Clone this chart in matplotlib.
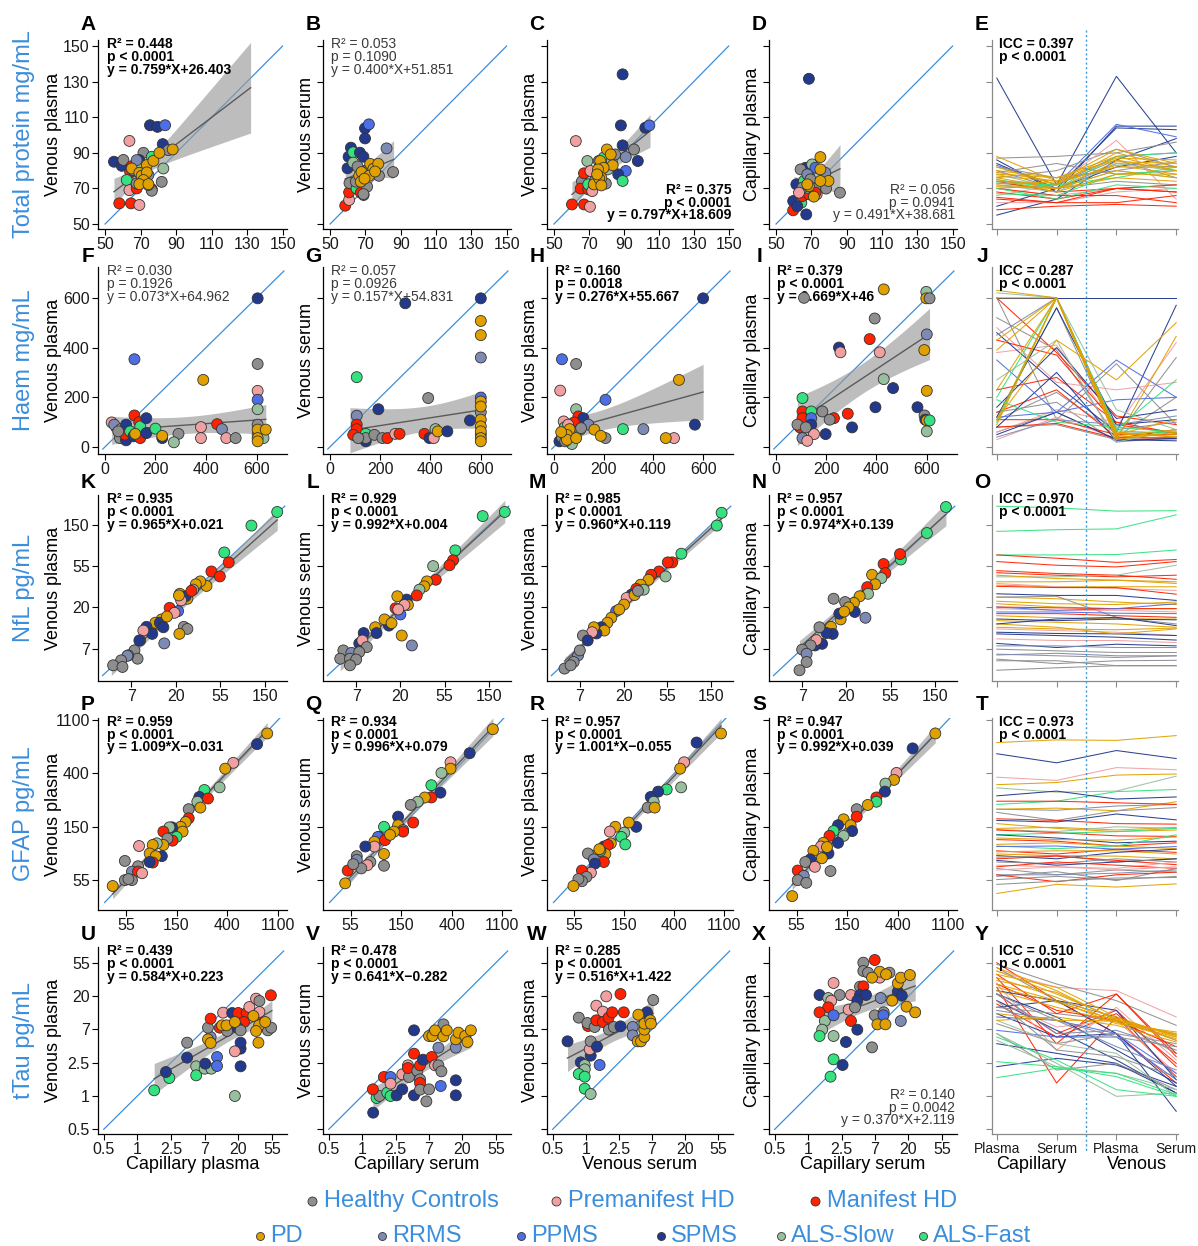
import numpy as np
import matplotlib
matplotlib.use('Agg')
import matplotlib.pyplot as plt
from matplotlib.lines import Line2D

plt.rcParams['font.family'] = ['Liberation Sans', 'DejaVu Sans']

# ---- groups ----
GROUPS = ['HC', 'PRE', 'HD', 'PD', 'RR', 'PP', 'SP', 'AS', 'AF']
GROUP_NAMES = ['Healthy Controls', 'Premanifest HD', 'Manifest HD', 'PD', 'RRMS',
               'PPMS', 'SPMS', 'ALS-Slow', 'ALS-Fast']
GROUP_COLORS = {'HC': '#8e8e8e', 'PRE': '#f0a0a0', 'HD': '#ff2200', 'PD': '#e0a100',
                'RR': '#7d8ab3', 'PP': '#4d6fe6', 'SP': '#22398c', 'AS': '#98bf9d',
                'AF': '#35e27f'}

ROW_TITLES = ['Total protein mg/mL', 'Haem mg/mL', 'NfL pg/mL', 'GFAP pg/mL', 'tTau pg/mL']
Y_LABELS = ['Venous plasma', 'Venous serum', 'Venous plasma', 'Capillary plasma']
X_LABELS = ['Capillary plasma', 'Capillary serum', 'Venous serum', 'Capillary serum']
E_TICKLABELS = ['Plasma', 'Serum', 'Plasma', 'Serum']

# tick values (rows 3-5 are drawn on a natural-log axis)
TICKS = [[50, 70, 90, 110, 130, 150], [0, 200, 400, 600], [2, 3, 4, 5], [4, 5, 6, 7],
         [-1, 0, 1, 2, 3, 4]]
TICK_LABELS = [['50', '70', '90', '110', '130', '150'], ['0', '200', '400', '600'],
               ['7', '20', '55', '150'], ['55', '150', '400', '1100'],
               ['0.5', '1', '2.5', '7', '20', '55']]

# ---- row 1: total protein (group, x, y) ----
pts_A = [('SP', 55, 85), ('SP', 59.4, 82.7), ('HC', 60.3, 86), ('SP', 75.3, 105.5), ('SP', 79.5, 104.6),
         ('PP', 83.8, 105.5), ('SP', 82.5, 94.9), ('PRE', 63.7, 96.7), ('HC', 71.6, 90), ('SP', 69.3, 85.9),
         ('HD', 65, 82.5), ('HD', 64.1, 79.3), ('HC', 66, 80.3), ('AF', 62.2, 74.7), ('PRE', 63.7, 69),
         ('HD', 67.8, 70), ('HD', 58, 61.6), ('HD', 64.6, 61.6), ('PRE', 69.3, 60.7), ('HD', 76.3, 69.6),
         ('HC', 76.3, 68.7), ('AF', 74.4, 71.9), ('AF', 76.3, 87.8), ('AS', 69.3, 82.1), ('AS', 82.8, 81.2),
         ('HC', 81.9, 73.7), ('HC', 74.4, 77.5), ('HC', 70.6, 76.5), ('HC', 85.6, 91.5), ('RR', 67.8, 85.9),
         ('HC', 67.8, 72.8), ('PD', 65, 81.2), ('PD', 73.5, 83.1), ('PD', 77.2, 85.5), ('PD', 80.6, 90),
         ('PD', 88.1, 91.9), ('PD', 69.3, 78.8), ('PD', 70.6, 77.1), ('PD', 73.5, 79), ('PD', 71.6, 74.7),
         ('PD', 69.3, 72.4), ('PD', 74.4, 72.4)]
pts_B = [('HD', 58.6, 60.3), ('PRE', 60.8, 63.5), ('HD', 60.8, 67.8), ('PRE', 62.7, 72.9), ('HC', 61, 73),
         ('AF', 65, 70), ('HD', 67.4, 67.6), ('HC', 69, 66.3), ('SP', 61.8, 92.9), ('SP', 60.5, 87.8),
         ('SP', 59.9, 81.3), ('AF', 63.1, 90.3), ('SP', 66.9, 90.1), ('SP', 68.9, 87.8), ('SP', 69.8, 103.8),
         ('PP', 72, 106), ('SP', 69.8, 98.1), ('RR', 82, 92.5), ('AS', 63.1, 84.5), ('AS', 68, 80),
         ('HC', 65.6, 82.3), ('HC', 71, 80), ('HC', 77.7, 77.1), ('HC', 85.7, 79.2), ('HC', 71, 71),
         ('HC', 68.9, 66.8), ('HC', 64.6, 73.8), ('PD', 72.7, 83.8), ('PD', 74.5, 81), ('PD', 77.3, 83.8),
         ('PD', 66.5, 77.1), ('PD', 67.8, 79.2), ('PD', 67.4, 73.8), ('PD', 72.1, 77.1), ('PD', 69.5, 75.5),
         ('PD', 75.5, 79.5)]
pts_C = [('SP', 89.3, 134.1), ('SP', 88.3, 105.4), ('SP', 102.3, 104.1), ('PP', 104.6, 105.4),
         ('SP', 89.3, 94.2), ('HC', 95.8, 91.9), ('RR', 91.1, 87.6), ('SP', 98, 85.4), ('PP', 91.1, 79.8),
         ('SP', 86.8, 77.9), ('AF', 89.3, 74.2), ('PRE', 62.5, 96.6), ('AS', 69.1, 85.4), ('HC', 66, 74),
         ('HD', 67.2, 78.5), ('PRE', 70.9, 79.8), ('HD', 65.3, 69.9), ('HD', 69.6, 69.5), ('AF', 69.6, 72.3),
         ('HD', 60.3, 61), ('HD', 67.2, 61), ('PRE', 70.6, 59.7), ('PRE', 71.9, 68.5), ('HC', 73.4, 74.2),
         ('HC', 79.7, 72.7), ('HC', 75.6, 85.4), ('AF', 78.4, 87.3), ('AS', 80.8, 80.7), ('AS', 83.1, 85.4),
         ('HC', 85, 89.1), ('PD', 80.3, 91.9), ('PD', 82.5, 89.1), ('PD', 83.6, 83), ('PD', 76.5, 85.4),
         ('PD', 78.4, 81.6), ('PD', 75.2, 80.7), ('PD', 77.1, 76), ('PD', 72.8, 72.3), ('PD', 75.9, 75.5),
         ('PD', 77.1, 71.7), ('PD', 74.7, 77.9)]
pts_D = [('SP', 68.6, 131.6), ('SP', 67.1, 55.4), ('HD', 59.7, 57.7), ('SP', 59.7, 62.9), ('AF', 64.3, 62),
         ('SP', 62, 60), ('SP', 61.5, 72.3), ('HD', 64.9, 65.7), ('HD', 68.6, 66.7), ('AS', 67.7, 70.4),
         ('AF', 65.8, 74.2), ('AF', 68.6, 77), ('SP', 66.7, 81.6), ('HC', 63.9, 80.7), ('AS', 70.4, 83.5),
         ('PP', 72.3, 81.6), ('RR', 77.9, 78.8), ('RR', 67.7, 77.9), ('HC', 78.3, 69.9), ('HC', 86.2, 67.6),
         ('HC', 64.9, 70.4), ('HC', 72.3, 70.4), ('HC', 69.5, 75.1), ('PRE', 73, 66.7), ('HD', 72.3, 67.6),
         ('PRE', 63, 67.6), ('PD', 75.1, 87.6), ('PD', 75.1, 80.7), ('PD', 79.7, 74.2), ('PD', 75.1, 74.2),
         ('PD', 68.6, 71.3), ('PD', 71.4, 65.4), ('PD', 67.7, 72.3)]

# ---- row 2: haem ----
pts_F = [('SP', 604, 598), ('PP', 117, 353), ('PD', 389, 270), ('HC', 604, 334), ('PRE', 604, 226),
         ('PP', 604, 190), ('AS', 604, 152), ('HC', 604, 90), ('HC', 604, 50), ('AS', 627, 36),
         ('PRE', 27, 99), ('RR', 37, 90), ('HC', 60, 36), ('AS', 64, 72), ('SP', 84, 90), ('SP', 84, 27),
         ('HD', 80, 50), ('AF', 100, 63), ('SP', 113, 43), ('HD', 117, 127), ('HD', 136, 100), ('AF', 140, 83),
         ('HD', 140, 36), ('SP', 164, 116), ('SP', 164, 56), ('AF', 200, 74), ('SP', 227, 36), ('HC', 291, 53),
         ('AS', 273, 19), ('PRE', 380, 80), ('PRE', 380, 36), ('HD', 444, 92), ('RR', 463, 72), ('PRE', 480, 36),
         ('HC', 517, 36), ('HC', 53, 63), ('PD', 120, 53), ('PD', 227, 45), ('PD', 604, 70), ('PD', 636, 70),
         ('PD', 604, 36), ('PD', 604, 23)]
pts_G = [('SP', 300, 578), ('AF', 107, 281), ('HC', 391, 197), ('SP', 193, 152), ('RR', 107, 126),
         ('HD', 107, 90), ('HD', 107, 72), ('HD', 93, 49), ('AF', 143, 53), ('SP', 143, 23), ('HC', 143, 36),
         ('HC', 113, 36), ('HC', 177, 49), ('HC', 209, 36), ('HD', 229, 36), ('PRE', 260, 53), ('HD', 277, 53),
         ('HD', 376, 53), ('SP', 396, 36), ('PRE', 413, 36), ('AS', 420, 72), ('PD', 429, 63), ('SP', 467, 63),
         ('SP', 557, 107), ('SP', 600, 598), ('RR', 600, 360), ('PP', 600, 199), ('HC', 600, 140),
         ('HC', 600, 50), ('PD', 600, 507), ('PD', 600, 450), ('PD', 600, 183), ('PD', 600, 163),
         ('PD', 600, 110), ('PD', 600, 83), ('PD', 600, 63), ('PD', 600, 36), ('PD', 600, 23)]
pts_H = [('SP', 600, 598), ('PP', 33, 353), ('HC', 90, 334), ('PRE', 26, 227), ('PP', 208, 190),
         ('PD', 503, 270), ('AS', 90, 152), ('HD', 99, 123), ('SP', 119, 116), ('RR', 139, 90), ('SP', 567, 90),
         ('AF', 278, 72), ('RR', 360, 72), ('PRE', 483, 36), ('HC', 208, 36), ('HD', 82, 99), ('HD', 60, 79),
         ('PRE', 40, 103), ('AF', 44, 79), ('AS', 73, 12), ('SP', 23, 23), ('HC', 33, 39), ('AF', 106, 70),
         ('HC', 110, 76), ('HC', 46, 23), ('PRE', 58, 90), ('PD', 450, 36), ('PD', 163, 70), ('PD', 189, 45),
         ('PD', 64, 72), ('PD', 53, 49), ('PD', 53, 29), ('PD', 90, 36), ('PD', 30, 60)]
pts_I = [('HC', 112, 600), ('PD', 429, 634), ('AS', 598, 624), ('PD', 598, 598), ('HC', 611, 598),
         ('HC', 393, 517), ('HD', 373, 434), ('SP', 251, 400), ('PRE', 257, 381), ('PRE', 413, 381),
         ('RR', 600, 453), ('PD', 590, 390), ('AS', 429, 273), ('SP', 466, 237), ('PD', 600, 226),
         ('AF', 106, 197), ('SP', 396, 160), ('SP', 563, 160), ('HC', 185, 143), ('HD', 106, 143),
         ('AF', 141, 143), ('HD', 286, 134), ('HD', 231, 116), ('HC', 214, 110), ('HD', 106, 116),
         ('PP', 141, 116), ('SP', 141, 90), ('HD', 96, 79), ('HC', 86, 90), ('SP', 303, 79), ('SP', 198, 52),
         ('PRE', 152, 52), ('RR', 106, 36), ('PRE', 125, 25), ('HC', 591, 127), ('SP', 594, 110),
         ('PD', 600, 107), ('AS', 600, 63), ('AF', 611, 107), ('HC', 119, 79)]

# ---- row 3: NfL (natural log values) ----
pts_K = [('AF', 5.28, 5.31), ('AF', 4.70, 4.98), ('AF', 4.09, 4.33), ('HD', 4.19, 4.09), ('HD', 3.80, 3.87),
         ('HD', 3.99, 3.75), ('PD', 3.69, 3.52), ('PD', 3.55, 3.63), ('PD', 3.45, 3.56), ('AS', 3.39, 3.43),
         ('PD', 3.09, 3.33), ('PD', 3.26, 3.21), ('SP', 3.22, 3.27), ('PRE', 3.12, 3.17), ('PD', 3.07, 3.29),
         ('HD', 2.86, 2.99), ('PP', 3.05, 2.91), ('PRE', 2.97, 2.87), ('PD', 2.68, 2.71), ('PD', 2.61, 2.60),
         ('PD', 2.54, 2.63), ('SP', 2.34, 2.53), ('SP', 2.47, 2.36), ('SP', 2.64, 2.63), ('SP', 2.72, 2.52),
         ('HC', 3.18, 2.53), ('HC', 3.26, 2.48), ('PD', 3.08, 2.36), ('RR', 2.74, 2.13), ('PRE', 2.27, 2.44),
         ('PRE', 2.20, 2.20), ('SP', 2.18, 2.20), ('HC', 2.07, 1.96), ('HC', 2.14, 1.76), ('HC', 1.93, 1.84),
         ('RR', 1.91, 1.83), ('HC', 1.77, 1.72), ('HC', 1.59, 1.60), ('HC', 1.80, 1.56), ('PD', 2.80, 2.78),
         ('HD', 3.35, 3.40)]
pts_L = [('AF', 5.36, 5.31), ('AF', 4.86, 5.21), ('AF', 4.24, 4.38), ('HD', 4.19, 4.14), ('HD', 4.11, 4.02),
         ('AS', 3.74, 4.00), ('HD', 3.80, 3.67), ('PD', 3.60, 3.63), ('PD', 3.54, 3.51), ('AS', 3.43, 3.43),
         ('HD', 3.37, 3.29), ('SP', 3.14, 3.19), ('PD', 3.17, 3.06), ('PD', 2.93, 3.27), ('HD', 2.89, 2.98),
         ('PRE', 3.09, 3.06), ('PP', 3.00, 2.83), ('SP', 2.74, 2.56), ('PD', 2.64, 2.71), ('PD', 2.43, 2.52),
         ('SP', 2.46, 2.38), ('SP', 2.17, 2.38), ('PD', 2.80, 2.62), ('PD', 3.03, 2.32), ('RR', 3.26, 2.08),
         ('SP', 2.07, 2.13), ('PRE', 2.14, 2.20), ('HC', 2.24, 2.04), ('HC', 1.71, 1.96), ('RR', 1.89, 1.90),
         ('HC', 2.07, 1.92), ('HC', 1.64, 1.76), ('HC', 1.86, 1.76), ('HC', 2.0, 1.74), ('HC', 1.86, 1.60),
         ('PRE', 2.95, 2.95)]
pts_M = [('AF', 5.24, 5.29), ('AF', 5.13, 4.98), ('AF', 4.32, 4.30), ('HD', 4.11, 4.09), ('HD', 4.01, 4.09),
         ('HD', 3.81, 3.87), ('AS', 3.96, 3.75), ('HD', 3.63, 3.79), ('PD', 3.57, 3.67), ('PD', 3.39, 3.55),
         ('AS', 3.46, 3.43), ('HD', 3.29, 3.45), ('SP', 3.18, 3.31), ('PRE', 3.07, 3.23), ('PD', 3.01, 3.07),
         ('PP', 2.83, 2.91), ('PD', 2.72, 2.75), ('PD', 2.63, 2.63), ('SP', 2.49, 2.52), ('PD', 2.56, 2.44),
         ('SP', 2.38, 2.37), ('PD', 2.32, 2.52), ('PRE', 2.28, 2.40), ('HC', 2.07, 2.32), ('SP', 2.18, 2.20),
         ('RR', 1.96, 1.84), ('HC', 2.0, 1.96), ('HC', 1.86, 1.68), ('HC', 1.65, 1.52), ('HC', 1.79, 1.60),
         ('PD', 3.25, 3.30), ('PD', 2.90, 2.95), ('HC', 3.33, 3.40)]
pts_N = [('AF', 5.25, 5.43), ('AF', 4.82, 4.80), ('AF', 4.23, 4.16), ('HD', 4.21, 4.29), ('HD', 3.84, 4.05),
         ('HD', 3.88, 3.83), ('PD', 3.58, 3.79), ('AS', 3.79, 3.71), ('PD', 3.65, 3.56), ('HD', 3.47, 3.49),
         ('AS', 3.49, 3.33), ('PD', 3.30, 3.27), ('PD', 3.17, 3.11), ('SP', 3.19, 2.89), ('HC', 2.71, 3.21),
         ('HC', 2.97, 3.13), ('RR', 3.43, 2.75), ('PD', 2.87, 2.71), ('SP', 2.84, 2.85), ('PD', 2.65, 2.53),
         ('SP', 2.69, 2.36), ('SP', 2.55, 2.38), ('HC', 2.39, 2.52), ('SP', 2.45, 2.12), ('SP', 2.29, 2.08),
         ('PRE', 2.32, 2.21), ('HC', 2.19, 2.08), ('HC', 2.0, 1.98), ('RR', 2.10, 1.88), ('HC', 2.10, 1.68),
         ('HC', 1.94, 1.48), ('PD', 3.05, 3.00), ('PD', 2.95, 2.90)]

# ---- row 4: GFAP (natural log values) ----
pts_P = [('PD', 6.79, 6.75), ('SP', 6.59, 6.55), ('PRE', 6.12, 6.20), ('PD', 5.96, 6.09), ('AS', 5.85, 5.74),
         ('AF', 5.55, 5.69), ('SP', 5.45, 5.56), ('HD', 5.62, 5.53), ('AS', 5.41, 5.47), ('PD', 5.47, 5.36),
         ('HC', 5.24, 5.33), ('HD', 5.24, 5.16), ('PD', 5.18, 5.09), ('PD', 5.08, 5.0), ('PD', 5.12, 4.91),
         ('SP', 4.91, 4.99), ('AS', 4.86, 4.99), ('HD', 4.74, 4.91), ('AF', 5.0, 4.81), ('HD', 4.92, 4.74),
         ('HC', 4.82, 4.78), ('PD', 4.74, 4.66), ('AS', 4.61, 4.69), ('PRE', 4.26, 4.64), ('PD', 4.53, 4.66),
         ('PD', 4.47, 4.5), ('SP', 4.71, 4.45), ('PD', 4.59, 4.45), ('HD', 4.53, 4.33), ('SP', 4.47, 4.34),
         ('HC', 3.98, 4.36), ('HC', 4.24, 4.26), ('RR', 4.12, 4.16), ('HD', 4.24, 4.16), ('PRE', 4.32, 4.13),
         ('HC', 3.98, 4.0), ('HC', 4.12, 4.0), ('HC', 4.05, 4.02), ('PD', 3.74, 3.89)]
pts_Q = [('PD', 6.82, 6.83), ('SP', 6.36, 6.38), ('PRE', 5.98, 6.21), ('PD', 5.98, 6.09), ('AS', 5.80, 6.01),
         ('AF', 5.60, 5.78), ('SP', 5.78, 5.64), ('HD', 5.60, 5.55), ('PD', 5.47, 5.55), ('AS', 5.33, 5.47),
         ('HC', 5.19, 5.41), ('SP', 4.94, 5.19), ('HD', 5.24, 5.08), ('PD', 4.94, 5.03), ('RR', 5.04, 4.94),
         ('HD', 5.04, 4.91), ('PD', 4.86, 4.91), ('AF', 4.66, 5.0), ('SP', 4.56, 4.81), ('PP', 4.54, 4.81),
         ('PD', 4.47, 4.72), ('PRE', 4.47, 4.63), ('HD', 4.68, 4.75), ('PD', 4.66, 4.49), ('SP', 4.29, 4.63),
         ('HC', 4.12, 4.45), ('RR', 4.12, 4.38), ('HC', 4.39, 4.34), ('PRE', 4.33, 4.28), ('HC', 4.66, 4.27),
         ('HC', 4.21, 4.22), ('HD', 3.94, 4.18), ('PD', 3.89, 3.94), ('HC', 4.05, 4.30), ('PD', 4.78, 4.85)]
pts_R = [('PD', 6.94, 6.75), ('SP', 6.45, 6.58), ('PRE', 6.20, 6.21), ('PD', 6.12, 6.09), ('AS', 6.14, 5.74),
         ('AF', 5.85, 5.70), ('SP', 5.68, 5.66), ('SP', 5.53, 5.56), ('AS', 5.59, 5.47), ('HC', 5.47, 5.36),
         ('PD', 5.61, 5.36), ('SP', 5.24, 5.0), ('PD', 5.09, 5.08), ('PD', 4.82, 5.0), ('PRE', 4.71, 4.91),
         ('AS', 5.0, 4.89), ('AF', 4.94, 4.81), ('AF', 5.02, 4.67), ('PD', 4.73, 4.69), ('SP', 4.59, 4.63),
         ('HD', 4.67, 4.66), ('PD', 4.62, 4.49), ('HC', 4.52, 4.55), ('PD', 4.35, 4.46), ('HC', 4.27, 4.5),
         ('RR', 4.39, 4.39), ('HD', 4.59, 4.34), ('SP', 4.41, 4.31), ('PRE', 4.33, 4.14), ('HD', 4.15, 4.18),
         ('HC', 4.24, 4.06), ('HC', 4.15, 3.98), ('HC', 4.08, 4.02), ('PD', 3.98, 3.89), ('PD', 4.50, 4.58)]
pts_S = [('PD', 6.75, 6.75), ('SP', 6.30, 6.47), ('PRE', 5.98, 6.01), ('PD', 5.93, 5.88), ('AS', 5.76, 5.81),
         ('SP', 5.75, 5.66), ('HD', 5.58, 5.55), ('AF', 5.58, 5.47), ('PD', 5.41, 5.41), ('HC', 5.19, 5.33),
         ('HD', 5.19, 5.19), ('PD', 4.93, 5.14), ('PD', 5.07, 5.03), ('SP', 4.82, 5.03), ('SP', 5.10, 4.92),
         ('AS', 4.93, 4.83), ('AF', 4.73, 4.92), ('HD', 4.65, 4.83), ('PD', 4.53, 4.70), ('SP', 4.82, 4.70),
         ('PRE', 4.48, 4.63), ('SP', 4.63, 4.50), ('PD', 4.50, 4.41), ('PD', 4.33, 4.55), ('SP', 4.27, 4.39),
         ('PRE', 4.36, 4.25), ('HC', 4.17, 4.34), ('HC', 4.67, 4.17), ('HD', 4.02, 4.18), ('RR', 4.14, 4.08),
         ('HC', 4.02, 4.0), ('HC', 4.19, 3.95), ('PD', 3.91, 3.70), ('PD', 4.60, 4.62)]

# ---- row 5: tTau (natural log values) ----
pts_U = [('AF', 0.50, 0.17), ('AF', 0.95, 0.54), ('SP', 0.85, 0.72), ('SP', 1.48, 1.15), ('HC', 1.48, 1.60),
         ('AS', 1.75, 0.89), ('AF', 1.75, 0.62), ('AS', 2.0, 0.82), ('AS', 2.2, 0.82), ('SP', 2.02, 0.97),
         ('PP', 2.37, 1.17), ('PP', 2.37, 0.90), ('SP', 3.07, 0.89), ('SP', 3.07, 1.42), ('SP', 3.07, 1.60),
         ('PRE', 2.90, 1.34), ('AS', 2.90, 0.0), ('RR', 2.18, 1.77), ('HC', 2.10, 2.05), ('HD', 2.18, 2.32),
         ('HD', 2.45, 2.05), ('PRE', 2.55, 2.50), ('SP', 2.82, 2.49), ('HD', 3.0, 2.49), ('HD', 3.25, 2.49),
         ('HC', 2.67, 1.95), ('HD', 3.17, 2.22), ('SP', 2.98, 2.05), ('HC', 3.07, 1.97), ('PRE', 3.33, 2.67),
         ('HD', 3.55, 2.42), ('PRE', 3.63, 2.52), ('PRE', 3.53, 2.92), ('HC', 3.63, 2.85), ('HD', 3.97, 3.02),
         ('HC', 3.88, 1.97), ('HC', 3.98, 2.05), ('PD', 2.10, 1.70), ('PD', 2.18, 1.59), ('PD', 2.52, 2.12),
         ('PD', 2.65, 2.12), ('PD', 2.9, 2.22), ('PD', 3.45, 2.40), ('PD', 3.62, 2.12), ('PD', 3.53, 1.95),
         ('PD', 3.60, 1.60), ('PD', 3.80, 2.22)]
pts_V = [('SP', 0.33, -0.50), ('AF', 0.43, -0.06), ('HC', 0.52, 0.0), ('AF', 0.75, 0.10), ('AF', 0.85, 0.0),
         ('SP', 1.03, 0.02), ('HD', 0.32, 0.20), ('HD', 0.65, 0.57), ('PP', 0.85, 0.57), ('PRE', 0.85, 0.37),
         ('SP', 1.20, 0.20), ('PRE', 1.20, 0.65), ('HC', 1.40, 0.57), ('PRE', 1.37, 0.92), ('HD', 1.37, 0.84),
         ('HD', 1.55, 1.27), ('SP', 1.55, 1.97), ('SP', 1.55, 0.02), ('HC', 1.65, 0.75), ('HD', 1.73, 0.92),
         ('SP', 1.82, 1.09), ('HC', 1.73, 0.50), ('HD', 1.73, 0.39), ('HC', 1.73, 0.19), ('HC', 1.92, -0.16),
         ('HC', 2.0, 0.20), ('HD', 2.08, 1.17), ('PRE', 2.18, 0.92), ('HC', 2.28, 0.92), ('HC', 2.37, 0.74),
         ('RR', 2.28, 1.45), ('PP', 2.35, 0.30), ('HC', 2.43, 2.15), ('SP', 2.80, 0.47), ('SP', 2.80, 0.02),
         ('RR', 2.80, 1.45), ('PD', 2.0, 1.80), ('PD', 2.10, 1.80), ('PD', 2.18, 1.97), ('PD', 2.43, 1.79),
         ('PD', 2.53, 1.97), ('PD', 2.80, 1.70), ('PD', 2.88, 1.90), ('PD', 3.08, 1.80), ('PD', 3.15, 1.62),
         ('PD', 3.25, 1.97)]
pts_W = [('SP', -0.55, 1.64), ('HC', -0.21, 2.35), ('SP', -0.15, 1.01), ('AS', -0.03, 0.93), ('AS', -0.03, 0.80),
         ('AF', -0.21, 0.66), ('AF', -0.03, 0.58), ('AF', -0.03, 0.22), ('AS', 0.15, 0.06), ('PP', 0.42, 0.93),
         ('SP', 0.15, 1.21), ('PRE', 0.12, 1.40), ('HC', 0.15, 1.64), ('SP', 0.34, 1.48), ('HD', 0.07, 2.10),
         ('HC', 0.05, 2.19), ('HC', 0.27, 2.07), ('HD', 0.32, 2.27), ('PRE', 0.32, 2.71), ('PRE', 0.62, 2.99),
         ('PRE', 0.52, 2.53), ('HD', 0.52, 2.22), ('HD', 0.69, 2.35), ('HD', 0.80, 2.51), ('HD', 1.15, 2.51),
         ('HD', 1.05, 3.06), ('HC', 0.70, 1.99), ('HC', 0.85, 2.07), ('SP', 1.05, 2.09), ('RR', 1.42, 2.07),
         ('RR', 1.42, 1.82), ('SP', 1.85, 2.51), ('HC', 2.04, 2.88), ('PD', 1.59, 2.44), ('PD', 1.57, 1.64),
         ('PD', 1.67, 1.64), ('PD', 1.77, 1.77), ('PD', 1.77, 1.99), ('PD', 1.77, 2.17), ('PD', 1.95, 2.27),
         ('PD', 1.97, 2.17)]
pts_X = [('HD', 1.99, 4.08), ('HC', 1.65, 4.0), ('HC', 1.65, 3.75), ('HC', 1.79, 3.70), ('HC', 2.43, 3.70),
         ('PRE', 2.14, 3.55), ('PRE', 0.76, 3.39), ('HC', 0.94, 3.03), ('SP', 0.34, 3.03), ('AS', 0.60, 2.94),
         ('PRE', 0.69, 2.86), ('HD', 0.60, 2.66), ('HD', 0.34, 2.51), ('PRE', 1.28, 3.03), ('PRE', 1.21, 2.59),
         ('HC', 1.55, 3.28), ('HD', 1.65, 3.29), ('SP', 1.55, 3.03), ('SP', 1.73, 3.03), ('SP', 1.47, 2.86),
         ('HC', 1.40, 2.66), ('RR', 2.17, 2.94), ('SP', 2.68, 3.13), ('SP', 2.80, 3.01), ('RR', 2.77, 2.25),
         ('HC', 1.99, 2.42), ('HC', 2.26, 2.51), ('PP', 2.25, 2.42), ('HD', 1.28, 2.25), ('SP', 1.47, 1.99),
         ('SP', 1.13, 1.62), ('HC', 1.91, 1.46), ('AS', 0.50, 2.25), ('AS', 0.42, 1.99), ('AF', 0.34, 1.80),
         ('AS', 0.76, 1.80), ('PP', 0.76, 2.42), ('AF', 0.76, 1.10), ('SP', 1.03, 0.93), ('AF', 0.67, 0.58),
         ('PD', 2.14, 3.73), ('PD', 2.33, 3.65), ('PD', 1.91, 3.55), ('PD', 2.68, 3.38), ('PD', 2.77, 3.55),
         ('PD', 3.04, 3.63), ('PD', 2.51, 2.86), ('PD', 2.94, 2.68), ('PD', 3.20, 2.51), ('PD', 2.07, 2.15),
         ('PD', 2.31, 2.15)]

# regression fits: slope, intercept, x start, x end
fit_A = (0.759, 26.403, 55, 132)
fit_B = (0.400, 51.851, 58.6, 86)
fit_C = (0.797, 18.609, 60.3, 105)
fit_D = (0.491, 38.681, 60, 86.2)
fit_F = (0.073, 64.962, 27, 636)
fit_G = (0.157, 54.831, 80, 610)
fit_H = (0.276, 55.667, 20, 600)
fit_I = (0.669, 46, 86, 611)
fit_K = (0.965, 0.021, 1.55, 5.28)
fit_L = (0.992, 0.004, 1.64, 5.36)
fit_M = (0.960, 0.119, 1.65, 5.24)
fit_N = (0.974, 0.139, 1.94, 5.25)
fit_P = (1.009, -0.031, 3.74, 6.79)
fit_Q = (0.996, 0.079, 3.89, 6.82)
fit_R = (1.001, -0.055, 3.98, 6.94)
fit_S = (0.992, 0.039, 3.91, 6.75)
fit_U = (0.584, 0.223, 0.5, 4.0)
fit_V = (0.641, -0.282, 0.32, 3.25)
fit_W = (0.516, 1.422, -0.55, 2.04)
fit_X = (0.370, 2.119, 0.34, 3.2)

# stats text: lines, bold, corner
stat_A = (['R² = 0.448', 'p < 0.0001', 'y = 0.759*X+26.403'], True, 'tl')
stat_B = (['R² = 0.053', 'p = 0.1090', 'y = 0.400*X+51.851'], False, 'tl')
stat_C = (['R² = 0.375', 'p < 0.0001', 'y = 0.797*X+18.609'], True, 'br')
stat_D = (['R² = 0.056', 'p = 0.0941', 'y = 0.491*X+38.681'], False, 'br')
stat_F = (['R² = 0.030', 'p = 0.1926', 'y = 0.073*X+64.962'], False, 'tl')
stat_G = (['R² = 0.057', 'p = 0.0926', 'y = 0.157*X+54.831'], False, 'tl')
stat_H = (['R² = 0.160', 'p = 0.0018', 'y = 0.276*X+55.667'], True, 'tl')
stat_I = (['R² = 0.379', 'p < 0.0001', 'y = 0.669*X+46'], True, 'tl')
stat_K = (['R² = 0.935', 'p < 0.0001', 'y = 0.965*X+0.021'], True, 'tl')
stat_L = (['R² = 0.929', 'p < 0.0001', 'y = 0.992*X+0.004'], True, 'tl')
stat_M = (['R² = 0.985', 'p < 0.0001', 'y = 0.960*X+0.119'], True, 'tl')
stat_N = (['R² = 0.957', 'p < 0.0001', 'y = 0.974*X+0.139'], True, 'tl')
stat_P = (['R² = 0.959', 'p < 0.0001', 'y = 1.009*X\u22120.031'], True, 'tl')
stat_Q = (['R² = 0.934', 'p < 0.0001', 'y = 0.996*X+0.079'], True, 'tl')
stat_R = (['R² = 0.957', 'p < 0.0001', 'y = 1.001*X\u22120.055'], True, 'tl')
stat_S = (['R² = 0.947', 'p < 0.0001', 'y = 0.992*X+0.039'], True, 'tl')
stat_U = (['R² = 0.439', 'p < 0.0001', 'y = 0.584*X+0.223'], True, 'tl')
stat_V = (['R² = 0.478', 'p < 0.0001', 'y = 0.641*X\u22120.282'], True, 'tl')
stat_W = (['R² = 0.285', 'p < 0.0001', 'y = 0.516*X+1.422'], True, 'tl')
stat_X = (['R² = 0.140', 'p = 0.0042', 'y = 0.370*X+2.119'], False, 'br')
ICC_TEXT = ['ICC = 0.397', 'ICC = 0.287', 'ICC = 0.970', 'ICC = 0.973', 'ICC = 0.510']

# ---- subject lines: group, capillary plasma, capillary serum, venous plasma, venous serum ----
lines_E = [('SP', 132, 72, 133, 90), ('SP', 86, 68, 105, 105), ('SP', 84, 70, 104, 103), ('PP', 83, 72, 106, 99),
           ('SP', 55, 64, 86, 98), ('SP', 60, 70, 82, 88), ('HC', 87, 88, 90, 96), ('HC', 79, 84, 78, 80),
           ('HC', 76, 80, 92, 82), ('HC', 70, 72, 86, 76), ('HC', 73, 70, 74, 72), ('HC', 82, 76, 80, 85),
           ('PRE', 66, 72, 97, 64), ('PRE', 70, 66, 70, 72), ('PRE', 62, 62, 68, 70), ('HD', 58, 60, 61, 60),
           ('HD', 64, 62, 62, 66), ('HD', 68, 64, 70, 68), ('HD', 74, 68, 70, 72), ('HD', 70, 66, 66, 62),
           ('HD', 65, 62, 70, 68), ('RR', 74, 72, 88, 90), ('RR', 80, 70, 84, 82), ('AS', 78, 70, 80, 76),
           ('AS', 72, 68, 84, 80), ('AF', 70, 64, 72, 70), ('AF', 75, 70, 88, 90), ('AF', 67, 66, 78, 80),
           ('AF', 73, 72, 76, 82), ('PD', 88, 74, 92, 84), ('PD', 82, 72, 90, 82), ('PD', 78, 76, 88, 80),
           ('PD', 76, 70, 85, 84), ('PD', 74, 73, 83, 78), ('PD', 80, 76, 86, 80), ('PD', 72, 70, 80, 76),
           ('PD', 77, 74, 82, 82), ('PD', 75, 68, 78, 78), ('PD', 79, 74, 87, 86), ('PD', 71, 70, 76, 74)]
lines_J = [('SP', 600, 600, 600, 600), ('HC', 600, 110, 335, 90), ('HC', 520, 390, 40, 200),
           ('HC', 140, 180, 20, 40), ('HC', 110, 220, 55, 60), ('HC', 80, 90, 30, 35), ('HC', 60, 140, 30, 40),
           ('HC', 120, 560, 40, 360), ('PRE', 480, 260, 230, 260), ('PRE', 380, 410, 80, 420),
           ('PRE', 60, 150, 100, 55), ('PRE', 30, 120, 35, 30), ('HD', 600, 380, 125, 90),
           ('HD', 430, 370, 90, 55), ('HD', 230, 280, 100, 55), ('HD', 140, 230, 40, 35), ('HD', 110, 110, 50, 50),
           ('HD', 80, 95, 35, 70), ('SP', 460, 250, 60, 570), ('SP', 160, 400, 115, 150), ('SP', 120, 560, 90, 110),
           ('SP', 80, 300, 25, 35), ('SP', 50, 140, 30, 25), ('PP', 350, 140, 350, 200), ('PP', 120, 140, 190, 200),
           ('RR', 450, 600, 70, 100), ('RR', 40, 110, 90, 125), ('AS', 620, 600, 150, 70), ('AS', 270, 430, 20, 70),
           ('AF', 100, 600, 65, 55), ('AF', 200, 600, 70, 270), ('AF', 190, 100, 80, 60),
           ('PD', 630, 600, 55, 40), ('PD', 600, 600, 40, 50), ('PD', 430, 600, 30, 60), ('PD', 390, 600, 45, 70),
           ('PD', 230, 600, 60, 40), ('PD', 110, 600, 30, 445), ('PD', 90, 600, 50, 110), ('PD', 110, 430, 270, 500)]
lines_O = [('AF', 5.45, 5.41, 5.33, 5.34), ('AF', 4.84, 4.88, 4.90, 5.24), ('AF', 4.27, 4.27, 4.28, 4.39),
           ('HD', 4.27, 4.19, 4.09, 4.16), ('HD', 4.11, 4.02, 3.98, 4.11), ('HD', 3.89, 3.82, 3.78, 3.68),
           ('HD', 3.84, 3.78, 3.74, 3.78), ('AS', 3.74, 3.74, 3.78, 4.02), ('PD', 3.78, 3.70, 3.66, 3.62),
           ('PD', 3.62, 3.62, 3.66, 3.58), ('PD', 3.54, 3.50, 3.50, 3.50), ('PRE', 3.58, 3.50, 3.46, 3.41),
           ('HD', 3.51, 3.48, 3.48, 3.32), ('SP', 3.33, 3.29, 3.29, 3.17), ('PD', 3.25, 3.21, 3.13, 3.07),
           ('HC', 3.25, 3.27, 2.76, 2.60), ('PD', 3.15, 3.09, 3.07, 3.13), ('PD', 3.09, 3.01, 2.97, 2.97),
           ('HD', 3.01, 2.99, 2.97, 2.97), ('PRE', 2.97, 2.93, 2.93, 2.89), ('PP', 2.89, 2.89, 2.86, 2.85),
           ('HD', 2.85, 2.85, 2.80, 2.76), ('PD', 2.80, 2.75, 2.72, 2.72), ('SP', 2.72, 2.68, 2.72, 2.70),
           ('PD', 2.68, 2.64, 2.60, 2.52), ('PD', 2.52, 2.48, 2.46, 2.50), ('PRE', 2.48, 2.44, 2.40, 2.32),
           ('SP', 2.40, 2.37, 2.36, 2.32), ('PD', 2.60, 2.52, 2.36, 2.48), ('SP', 2.36, 2.32, 2.28, 2.21),
           ('PRE', 2.24, 2.20, 2.20, 2.15), ('SP', 2.13, 2.03, 2.11, 2.07), ('RR', 2.07, 2.07, 2.03, 2.03),
           ('HC', 1.99, 1.95, 1.91, 1.91), ('HC', 1.87, 1.83, 1.79, 1.83), ('HC', 1.75, 1.64, 1.71, 1.72),
           ('HC', 1.71, 1.71, 1.59, 1.59), ('RR', 1.85, 1.89, 1.83, 1.83), ('HC', 1.48, 1.54, 1.59, 1.59),
           ('SP', 2.60, 2.72, 2.76, 2.56), ('PP', 3.01, 2.93, 2.97, 3.09)]
lines_T = [('PD', 6.58, 6.63, 6.62, 6.71), ('SP', 6.37, 6.20, 6.43, 6.28), ('PRE', 5.93, 5.87, 6.11, 6.07),
           ('PD', 5.79, 5.83, 5.97, 5.99), ('AS', 5.73, 5.65, 5.67, 5.95), ('AF', 5.42, 5.48, 5.66, 5.70),
           ('SP', 5.58, 5.67, 5.52, 5.56), ('RR', 5.33, 5.31, 5.39, 5.42), ('PD', 5.33, 5.35, 5.30, 5.47),
           ('HD', 5.48, 5.48, 5.45, 5.42), ('HC', 5.27, 5.12, 5.30, 5.36), ('HD', 5.15, 5.12, 5.06, 5.05),
           ('SP', 5.12, 5.09, 5.24, 5.13), ('PD', 5.06, 4.97, 4.91, 4.94), ('PD', 4.97, 4.99, 4.94, 4.99),
           ('AS', 4.95, 4.91, 5.00, 4.97), ('HD', 4.94, 4.89, 4.83, 4.82), ('AF', 4.85, 4.88, 4.91, 4.97),
           ('SP', 4.85, 4.79, 4.70, 4.73), ('HD', 4.76, 4.73, 4.64, 4.70), ('PD', 4.79, 4.76, 4.75, 4.81),
           ('AF', 4.64, 4.59, 4.64, 4.85), ('PD', 4.67, 4.70, 4.64, 4.59), ('PP', 4.63, 4.64, 4.58, 4.63),
           ('HD', 4.55, 4.49, 4.58, 4.52), ('PD', 4.53, 4.55, 4.55, 4.49), ('SP', 4.46, 4.40, 4.52, 4.58),
           ('PD', 4.49, 4.46, 4.45, 4.40), ('HC', 4.43, 4.46, 4.34, 4.40), ('HD', 4.40, 4.45, 4.37, 4.29),
           ('SP', 4.37, 4.28, 4.34, 4.40), ('HC', 4.34, 4.31, 4.40, 4.34), ('PRE', 4.28, 4.25, 4.22, 4.34),
           ('HD', 4.25, 4.34, 4.28, 4.22), ('HC', 4.22, 4.10, 4.19, 4.15), ('RR', 4.10, 4.10, 4.13, 4.19),
           ('HC', 4.07, 4.16, 3.99, 4.22), ('HD', 4.10, 3.97, 4.10, 4.15), ('HC', 4.01, 4.07, 4.01, 4.07),
           ('PRE', 4.19, 4.25, 4.19, 4.25), ('PD', 3.75, 3.92, 3.87, 3.93), ('HC', 3.92, 3.98, 4.04, 4.05)]
lines_Y = [('HD', 4.0, 2.86, 1.87, 0.39), ('PRE', 3.75, 3.26, 3.16, 2.37), ('HC', 3.95, 3.36, 2.86, 2.12),
           ('HC', 3.85, 2.86, 2.37, 1.67), ('HD', 3.55, 1.57, 3.06, 1.18), ('HD', 3.06, 1.87, 2.57, 0.88),
           ('HD', 3.26, 0.39, 2.37, 0.58), ('HD', 2.76, 1.77, 2.47, 0.98), ('PRE', 3.36, 1.38, 2.66, 1.08),
           ('PRE', 2.86, 2.07, 2.27, 0.68), ('SP', 3.16, 2.86, 1.87, 0.29), ('SP', 3.06, 2.37, 1.38, 0.39),
           ('SP', 2.86, 1.97, 1.08, 0.09), ('SP', 2.47, 1.77, 1.87, -0.46), ('SP', 1.57, 1.28, 0.98, 0.09),
           ('SP', 0.88, 1.13, 0.93, 0.29), ('SP', 2.66, 2.86, 2.57, 0.49), ('PP', 2.37, 2.27, 1.87, 0.68),
           ('PP', 1.97, 1.77, 1.77, 0.49), ('RR', 2.57, 2.27, 1.48, 0.78), ('RR', 3.06, 1.87, 1.97, 1.38),
           ('HC', 2.66, 2.47, 2.27, 1.28), ('HC', 2.17, 1.57, 1.87, 1.57), ('HC', 1.87, 0.78, 0.98, 0.19),
           ('HC', 2.86, 1.38, 1.18, 0.58), ('AS', 1.87, 0.98, -0.01, 0.09), ('AS', 1.67, 0.88, 0.68, 0.19),
           ('AS', 2.27, 1.57, 1.28, -0.01), ('AF', 1.03, 0.88, 0.58, -0.01), ('AF', 0.55, 0.83, 0.68, 0.04),
           ('AF', 1.77, 1.08, 0.19, -0.01), ('HD', 3.65, 2.47, 3.06, 1.28), ('HD', 3.36, 2.57, 2.27, 1.48),
           ('HC', 3.06, 2.27, 1.77, 1.48), ('PD', 3.85, 3.16, 2.27, 1.87), ('PD', 3.75, 3.06, 2.32, 1.82),
           ('PD', 3.65, 3.26, 2.37, 1.77), ('PD', 3.55, 2.96, 2.22, 1.72), ('PD', 3.46, 3.11, 2.29, 1.67),
           ('PD', 3.36, 2.86, 2.17, 1.92), ('PD', 3.26, 2.81, 2.27, 1.85), ('PD', 3.16, 2.66, 2.22, 1.77),
           ('PD', 2.27, 2.37, 2.12, 1.62), ('PD', 2.47, 2.27, 2.27, 1.82)]

SCATTERS = [[(pts_A, fit_A, stat_A), (pts_B, fit_B, stat_B), (pts_C, fit_C, stat_C), (pts_D, fit_D, stat_D)],
            [(pts_F, fit_F, stat_F), (pts_G, fit_G, stat_G), (pts_H, fit_H, stat_H), (pts_I, fit_I, stat_I)],
            [(pts_K, fit_K, stat_K), (pts_L, fit_L, stat_L), (pts_M, fit_M, stat_M), (pts_N, fit_N, stat_N)],
            [(pts_P, fit_P, stat_P), (pts_Q, fit_Q, stat_Q), (pts_R, fit_R, stat_R), (pts_S, fit_S, stat_S)],
            [(pts_U, fit_U, stat_U), (pts_V, fit_V, stat_V), (pts_W, fit_W, stat_W), (pts_X, fit_X, stat_X)]]
LINE_PANELS = [lines_E, lines_J, lines_O, lines_T, lines_Y]
LETTERS = ['ABCDE', 'FGHIJ', 'KLMNO', 'PQRST', 'UVWXY']

# ---- layout (pixels) ----
W, H = 1198, 1246
ROW_TOP = [40, 267, 495, 718, 947]
ROW_H = [189, 187, 186, 192, 187]
COL_LEFT = [98, 323, 547, 769, 992]
COL_W = [189, 188, 186, 188, 186]
LETTER_Y = [25, 257, 483, 705, 935]
XLIMS = [(46, 152.5), (-27, 720), (1.25, 5.5), (3.45, 7.18), (-1.17, 4.45)]
YLIMS = [(47.2, 153.4), (-28, 724), (1.22, 5.72), (3.44, 7.04), (-1.14, 4.47)]
IDENT = [(50, 150), (-8, 708), (1.35, 5.45), (3.58, 7.05), (-1, 4.35)]
E_XLIM = (0.92, 4.03)

BLUE = '#3b8edb'
fig = plt.figure(figsize=(W / 100, H / 100), dpi=100)


def px_axes(left, top, w, h):
    return fig.add_axes([left / W, 1 - (top + h) / H, w / W, h / H])


def style(ax, spine_color='black'):
    for s in ['top', 'right']:
        ax.spines[s].set_visible(False)
    for s in ['left', 'bottom']:
        ax.spines[s].set_color(spine_color)
        ax.spines[s].set_linewidth(0.9)
    ax.tick_params(length=4, width=0.8, colors=spine_color, labelcolor='#1a1a1a',
                   labelsize=11.5, pad=2)


def scatter_panel(ax, pts, fit, stat, r, c):
    g = [p[0] for p in pts]
    x = np.array([p[1] for p in pts], dtype=float)
    y = np.array([p[2] for p in pts], dtype=float)
    ax.plot(IDENT[r], IDENT[r], color=BLUE, lw=0.9, zorder=1)
    slope, icpt, x0, x1 = fit
    xs = np.linspace(x0, x1, 120)
    yhat = slope * xs + icpt
    res = y - (slope * x + icpt)
    n = len(x)
    s = np.sqrt((res ** 2).sum() / (n - 2))
    se = s * np.sqrt(1 / n + (xs - x.mean()) ** 2 / ((x - x.mean()) ** 2).sum())
    ax.fill_between(xs, yhat - 2.0 * se, yhat + 2.0 * se, color='#9a9a9a', alpha=0.65, lw=0, zorder=2)
    ax.plot(xs, yhat, color='#5a5a5a', lw=1.0, zorder=3)
    ax.scatter(x, y, c=[GROUP_COLORS[k] for k in g], s=62, edgecolors='#333333',
               linewidths=0.6, zorder=4)
    ax.set_xlim(XLIMS[r])
    ax.set_ylim(YLIMS[r])
    ax.set_xticks(TICKS[r])
    ax.set_xticklabels(TICK_LABELS[r])
    ax.set_yticks(TICKS[r])
    ax.set_yticklabels(TICK_LABELS[r] if c == 0 else [])
    style(ax)
    ax.text(-0.235 if c == 0 else -0.09, 0.5, Y_LABELS[c], transform=ax.transAxes, rotation=90,
            ha='center', va='center', fontsize=13)
    lines, bold, corner = stat
    kw = dict(transform=ax.transAxes, fontsize=10, linespacing=0.88,
              fontweight='bold' if bold else 'normal', color='black' if bold else '#3a3a3a')
    if corner == 'tl':
        ax.text(0.045, 1.015, '\n'.join(lines), ha='left', va='top', **kw)
    else:
        ax.text(0.99, 0.035, '\n'.join(lines), ha='right', va='bottom', multialignment='right', **kw)
    if r == 4:
        ax.text(0.5, -0.165, X_LABELS[c], transform=ax.transAxes, ha='center', va='center', fontsize=13)


def line_panel(ax, subjects, r):
    for sub in subjects:
        ax.plot([1, 2, 3, 4], sub[1:], color=GROUP_COLORS[sub[0]], lw=0.75, alpha=0.95)
    ax.set_xlim(E_XLIM)
    ax.set_ylim(YLIMS[r])
    ax.set_xticks([1, 2, 3, 4])
    ax.set_yticks(TICKS[r])
    ax.set_yticklabels([])
    style(ax, spine_color='#8a8a8a')
    if r == 4:
        ax.set_xticklabels(E_TICKLABELS, fontsize=10)
        ax.text(1.58, -0.165, 'Capillary', transform=ax.get_xaxis_transform(), ha='center',
                va='center', fontsize=13)
        ax.text(3.35, -0.165, 'Venous', transform=ax.get_xaxis_transform(), ha='center',
                va='center', fontsize=13)
    else:
        ax.set_xticklabels([])
    ax.text(0.04, 1.015, ICC_TEXT[r] + '\np < 0.0001', transform=ax.transAxes, ha='left', va='top',
            fontsize=10, linespacing=0.88, fontweight='bold')


for r in range(5):
    for c in range(5):
        ax = px_axes(COL_LEFT[c], ROW_TOP[r], COL_W[c], ROW_H[r])
        if c < 4:
            pts, fit, stat = SCATTERS[r][c]
            scatter_panel(ax, pts, fit, stat, r, c)
        else:
            line_panel(ax, LINE_PANELS[r], r)
        fig.text((COL_LEFT[c] - 10) / W, 1 - LETTER_Y[r] / H, LETTERS[r][c], ha='center', va='center',
                 fontsize=15, fontweight='bold')
    fig.text(24 / W, 1 - (ROW_TOP[r] + ROW_H[r] / 2) / H, ROW_TITLES[r], rotation=90, ha='center',
             va='center', fontsize=17, color=BLUE)

# dotted separator between capillary and venous samples, across all line panels
sep_x = (COL_LEFT[4] + (2.5 - E_XLIM[0]) / (E_XLIM[1] - E_XLIM[0]) * COL_W[4]) / W
fig.add_artist(Line2D([sep_x, sep_x], [1 - 30 / H, 1 - 1152 / H], transform=fig.transFigure,
                      color='#3a9ad9', lw=1.0, ls=(0, (1.5, 1.8))))

# legend: marker x, y, marker size px, text offset px
LEG_POS = [(312, 1201, 9, 12), (556, 1201, 9, 12), (815, 1201, 9, 12), (260, 1236, 8, 10),
           (382, 1236, 8, 10), (521, 1236, 8, 10), (661, 1236, 8, 10), (781, 1236, 8, 10),
           (923, 1236, 8, 10)]
for k, name, (lx, ly, ms, off) in zip(GROUPS, GROUP_NAMES, LEG_POS):
    fig.add_artist(Line2D([lx / W], [1 - ly / H], transform=fig.transFigure, marker='o', ms=ms * 0.72,
                          mfc=GROUP_COLORS[k], mec='#333333', mew=0.6, ls='none'))
    fig.text((lx + off) / W, 1 - ly / H, name, ha='left', va='center', fontsize=17, color=BLUE)

fig.savefig('out.png', dpi=100)
